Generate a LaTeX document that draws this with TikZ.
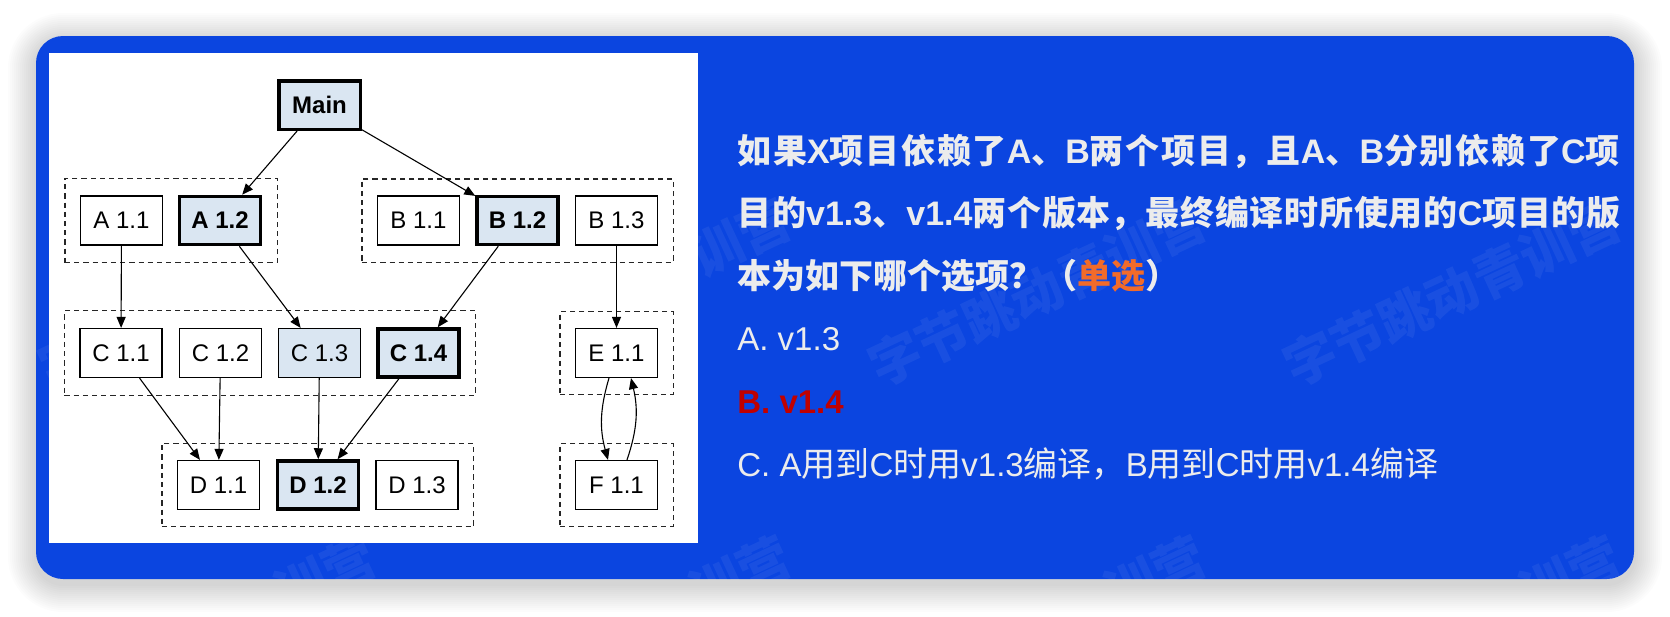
\documentclass[tikz,border=0pt]{standalone}
\usepackage{fontspec}
\usetikzlibrary{arrows.meta,fit}
\setmainfont{Liberation Sans}
\newfontfamily\latfont{Liberation Sans}
\newfontfamily\cjkfont{Noto Sans CJK SC}
\newcommand\ltn[1]{{\latfont #1}}
\newcommand\opt[1]{{\latfont\fontsize{16.5}{20}\selectfont #1}}
\XeTeXlinebreaklocale "zh"
\XeTeXlinebreakskip=0pt plus 1fil

\definecolor{cardblue}{HTML}{0B45E0}
\definecolor{pale}{HTML}{DAE6F2}
\definecolor{qtext}{HTML}{ECECEC}
\definecolor{answerred}{HTML}{C00000}
\definecolor{tagorange}{HTML}{F26B2A}

\tikzset{
  box/.style={draw=black, line width=0.6pt, fill=white, inner sep=0pt,
    minimum width=41pt, minimum height=24.5pt,
    font=\fontsize{12}{14}\selectfont},
  usedbox/.style={box, fill=pale},
  keybox/.style={box, fill=pale, line width=1.75pt,
    minimum width=40.5pt, minimum height=24pt,
    font=\fontsize{12}{14}\selectfont\bfseries},
  group/.style={draw=black!85, dash pattern=on 2.6pt off 2pt, line width=0.6pt,
    inner xsep=7.5pt, inner ysep=8.25pt},
  edge/.style={line width=0.55pt, -{Triangle[length=5.5pt,width=4.5pt]}},
  qline/.style={anchor=base west, inner sep=0pt, text=qtext,
    font=\cjkfont\bfseries\fontsize{17}{20}\selectfont},
  optline/.style={anchor=base west, inner sep=0pt, text=qtext,
    font=\cjkfont\fontsize{17}{20}\selectfont},
  wmtext/.style={text=white, opacity=0.06, rotate=25, inner sep=0pt,
    font=\cjkfont\bfseries\fontsize{26}{30}\selectfont},
}

\begin{document}
\begin{tikzpicture}[x=0.5pt,y=-0.5pt]
  \useasboundingbox (0,0) rectangle (1670,616);

  % soft shadow under the card
  \foreach \i in {1,...,14}{
    \fill[black, opacity=0.013, rounded corners={(13.5+\i)*1pt}]
      (36-2*\i,36-2*\i+5) rectangle (1634+2*\i,579+2*\i+5);
  }

  % card
  \fill[cardblue, rounded corners=13.5pt] (36,36) rectangle (1634,579);

  % watermark: full rows where the card is open, ends of rows at its edges
  \begin{scope}
    \clip[rounded corners=13.5pt] (36,36) rectangle (1634,579);
    \node[wmtext] at (66,359)   {字};
    \node[wmtext] at (740,238)  {训营};
    \node[wmtext] at (1037,293) {字节跳动青训营};
    \node[wmtext] at (1452,293) {字节跳动青训营};
    \foreach \wx in {207,622,1037,1452}{
      \node[wmtext] at (\wx+118,575) {训营};
    }
  \end{scope}

  % diagram panel
  \fill[white] (49,53) rectangle (698,543);

  % nodes
  \node[keybox, minimum width=40.75pt, minimum height=24.25pt] (main) at (319.5,105) {Main};

  \node[box]    (a11) at (121.5,220.5) {A 1.1};
  \node[keybox] (a12) at (220,220.5)   {A 1.2};
  \node[box]    (b11) at (418.5,220.5) {B 1.1};
  \node[keybox] (b12) at (517.5,220.5) {B 1.2};
  \node[box]    (b13) at (616.5,220.5) {B 1.3};

  \node[box]     (c11) at (121,353)   {C 1.1};
  \node[box]     (c12) at (220.5,353) {C 1.2};
  \node[usedbox] (c13) at (319.5,353) {C 1.3};
  \node[keybox]  (c14) at (418.5,353) {C 1.4};
  \node[box]     (e11) at (616.5,353) {E 1.1};

  \node[box]    (d11) at (218.5,485) {D 1.1};
  \node[keybox] (d12) at (318,485)   {D 1.2};
  \node[box]    (d13) at (417,485)   {D 1.3};
  \node[box]    (f11) at (616.5,485) {F 1.1};

  % project groups
  \node[group, fit=(a11)(a12)] (ga) {};
  \node[group, fit=(b11)(b13)] (gb) {};
  \node[group, fit=(c11)(c14)] (gc) {};
  \node[group, fit=(e11)] (ge) {};
  \node[group, fit=(d11)(d13)] (gd) {};
  \node[group, fit=(f11)] (gf) {};

  % dependencies
  \draw[edge] (main) -- (a12);
  \draw[edge] (main) -- (b12);
  \draw[edge] (a11) -- (c11);
  \draw[edge] (a12) -- (c13);
  \draw[edge] (b12) -- (c14);
  \draw[edge] (b13) -- (e11);
  \draw[edge] (c11) -- (d11);
  \draw[edge] (c12) -- (d11);
  \draw[edge] (c13) -- (d12);
  \draw[edge] (c14) -- (d12);
  \draw[edge] ([xshift=-3.75pt]e11.south) to[bend right=16] ([xshift=-4.25pt]f11.north);
  \draw[edge] ([xshift=5.25pt]f11.north) to[bend right=16] ([xshift=7.25pt]e11.south);

  % question
  \node[qline, text width=442pt, align=justify] (q1) at (737,163)
    {\parfillskip=0pt 如果\ltn{X}项目依赖了\ltn{A}、\ltn{B}两个项目，且\ltn{A}、\ltn{B}分别依赖了\ltn{C}项};
  \node[qline, text width=442pt, align=justify] (q2) at (737,225.5)
    {\parfillskip=0pt 目的\ltn{v1.3}、\ltn{v1.4}两个版本，最终编译时所使用的\ltn{C}项目的版};
  \node[qline] (q3) at (737,288)
    {本为如下哪个选项？（\textcolor{tagorange}{单选}）};

  % options
  \node[optline] (oa) at (737,350.5) {\opt{A. v1.3}};
  \node[optline, text=answerred] (ob) at (737,413) {\opt{\bfseries B. v1.4}};
  \node[optline] (oc) at (737,476)
    {\opt{C. A}用到\opt{C}时用\opt{v1.3}编译，\opt{B}用到\opt{C}时用\opt{v1.4}编译};
\end{tikzpicture}
\end{document}
